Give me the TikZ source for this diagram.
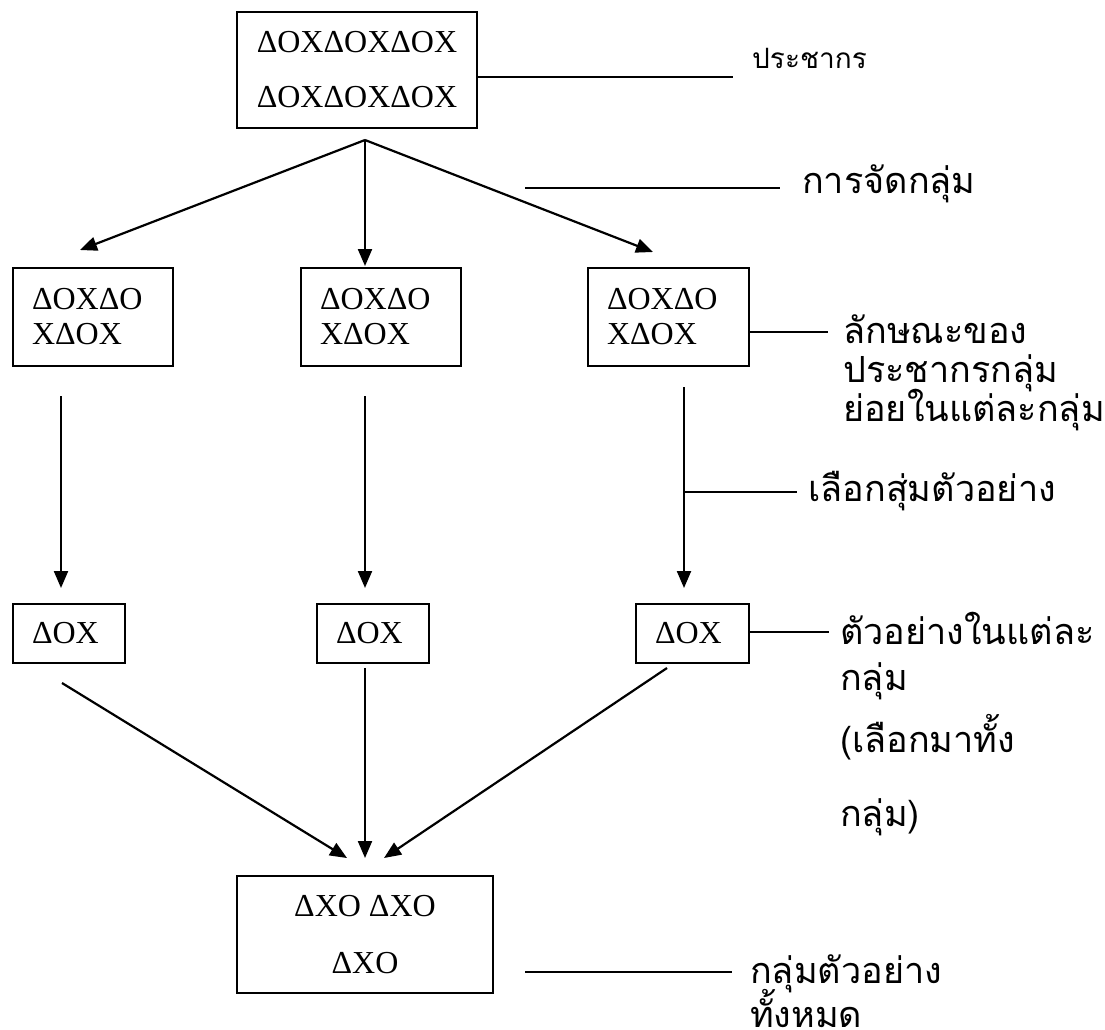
\documentclass[tikz,border=0pt]{standalone}
\usepackage{fontspec}
\setmainfont{Liberation Serif}
\newfontfamily\thaifont[Script=Thai]{Loma}
\usetikzlibrary{arrows.meta}
\begin{document}
\begin{tikzpicture}[x=1pt,y=-1pt,
  box/.style={draw, line width=2.4pt, inner sep=0pt, font=\fontsize{32}{35}\selectfont},
  link/.style={line width=2.2pt},
  arr/.style={line width=2.2pt, -{Triangle[length=17pt,width=14pt]}},
  lab/.style={font=\thaifont\fontsize{36}{40}\selectfont, anchor=base west, inner sep=0pt},
  smalllab/.style={font=\thaifont\fontsize{28}{32}\selectfont, anchor=base west, inner sep=0pt}]
\useasboundingbox (0,0) rectangle (1105,1029);

% boxes
\node[box, minimum width=240pt, minimum height=116pt, align=center] (pop) at (357,70)
  {ΔOXΔOXΔOX\\[20pt]ΔOXΔOXΔOX};
\node[box, minimum width=160pt, minimum height=98pt, text width=122pt, inner xsep=19pt, align=left] (g1) at (93,317) {ΔOXΔO\\XΔOX};
\node[box, minimum width=160pt, minimum height=98pt, text width=122pt, inner xsep=19pt, align=left] (g2) at (381,317) {ΔOXΔO\\XΔOX};
\node[box, minimum width=161pt, minimum height=98pt, text width=123pt, inner xsep=19pt, align=left] (g3) at (668.5,317) {ΔOXΔO\\XΔOX};
\node[box, minimum width=112pt, minimum height=59pt, text width=74pt, inner xsep=19pt, align=left] (s1) at (69,633.5) {ΔOX};
\node[box, minimum width=112pt, minimum height=59pt, text width=74pt, inner xsep=19pt, align=left] (s2) at (373,633.5) {ΔOX};
\node[box, minimum width=113pt, minimum height=59pt, text width=75pt, inner xsep=19pt, align=left] (s3) at (692.5,633.5) {ΔOX};
\node[box, minimum width=256pt, minimum height=117pt, align=center] (all) at (365,934.5)
  {ΔXO ΔXO\\[22pt]ΔXO};

% coordinates
\coordinate (split) at (365,140);
\coordinate (t1) at (80,250);
\coordinate (t2) at (365,266);
\coordinate (t3) at (653,252);
\coordinate (v1a) at (61,396);
\coordinate (v1b) at (61,588);
\coordinate (v2a) at (365,396);
\coordinate (v2b) at (365,588);
\coordinate (v3a) at (684,387);
\coordinate (v3b) at (684,588);
\coordinate (c1a) at (62,683);
\coordinate (c1b) at (347,858);
\coordinate (c2a) at (365,668);
\coordinate (c2b) at (365,858);
\coordinate (c3a) at (667,668);
\coordinate (c3b) at (384,858);

% arrows
\draw[arr] (split) -- (t1);
\draw[arr] (split) -- (t2);
\draw[arr] (split) -- (t3);
\draw[arr] (v1a) -- (v1b);
\draw[arr] (v2a) -- (v2b);
\draw[arr] (v3a) -- (v3b);
\draw[arr] (c1a) -- (c1b);
\draw[arr] (c2a) -- (c2b);
\draw[arr] (c3a) -- (c3b);

% label lines
\coordinate (popl) at (733,77);
\draw[link] (pop.east |- popl) -- (popl);
\coordinate (grpa) at (525,188);
\coordinate (grpb) at (780,188);
\draw[link] (grpa) -- (grpb);
\coordinate (g3l) at (828,332);
\draw[link] (g3.east |- g3l) -- (g3l);
\coordinate (selb) at (797,492);
\draw[link] (v3a |- selb) -- (selb);
\coordinate (s3l) at (829,632);
\draw[link] (s3.east |- s3l) -- (s3l);
\coordinate (alla) at (525,972);
\coordinate (allb) at (732,972);
\draw[link] (alla) -- (allb);

% labels
\node[smalllab] (lpop) at (752,68) {ประชากร};
\node[lab] (lgrp) at (802,193) {การจัดกลุ่ม};
\node[lab] (lch1) at (843,343) {ลักษณะของ};
\node[lab] (lch2) at (843,382) {ประชากรกลุ่ม};
\node[lab] (lch3) at (843,421) {ย่อยในแต่ละกลุ่ม};
\node[lab] (lsel) at (808,501) {เลือกสุ่มตัวอย่าง};
\node[lab] (lsm1) at (840,644) {ตัวอย่างในแต่ละ};
\node[lab] (lsm2) at (840,690) {กลุ่ม};
\node[lab] (lsm3) at (840,752) {(เลือกมาทั้ง};
\node[lab] (lsm4) at (840,826) {กลุ่ม)};
\node[lab] (lall1) at (750,983) {กลุ่มตัวอย่าง};
\node[lab] (lall2) at (750,1027) {ทั้งหมด};
\end{tikzpicture}
\end{document}
